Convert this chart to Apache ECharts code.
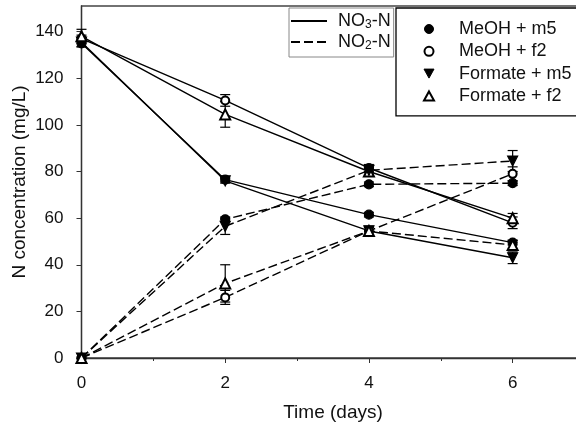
<!DOCTYPE html>
<html>
<head>
<meta charset="utf-8">
<script src="https://cdn.jsdelivr.net/npm/echarts@6/dist/echarts.min.js"></script>
<style>
  html, body { margin: 0; padding: 0; background: #fff; }
  #chart { width: 576px; height: 428px; }
</style>
</head>
<body>
<div id="chart"></div>
<script>
// Sampling days and axis ticks
const days = [0, 2, 4, 6];
const xTicks = [0, 2, 4, 6];
const xMinorTicks = [1, 3, 5];
const yTicks = [0, 20, 40, 60, 80, 100, 120, 140];

// Legend labels
const treatments = ['MeOH + m5', 'MeOH + f2', 'Formate + m5', 'Formate + f2'];
const speciesNames = ['NO3-N', 'NO2-N'];

// Nitrate (mg/L) and standard deviations
const no3MeohM5 = [135, 76.5, 61.5, 49.5];
const no3MeohM5Err = [1.5, 1, 1, 1];
const no3MeohF2 = [137, 110.5, 81.5, 58];
const no3MeohF2Err = [1.5, 2.5, 1.5, 2.5];
const no3FormM5 = [135.5, 76, 54.5, 43];
const no3FormM5Err = [2, 1, 1.5, 2.5];
const no3FormF2 = [138, 104.5, 80, 60];
const no3FormF2Err = [3, 5.5, 1.5, 2];

// Nitrite (mg/L) and standard deviations
const no2MeohM5 = [0, 59.5, 74.5, 75];
const no2MeohM5Err = [0, 1, 1, 1];
const no2MeohF2 = [0, 26, 54.5, 79];
const no2MeohF2Err = [0, 3, 2, 3];
const no2FormM5 = [0, 56.5, 80.5, 84.5];
const no2FormM5Err = [0, 3.5, 1, 4.5];
const no2FormF2 = [0, 32, 54.5, 48.5];
const no2FormF2Err = [0, 8, 2, 2];

const downTriangle = 'path://M0,0 L10,0 L5,9 Z';
const markerOf = {
  'MeOH + m5': { symbol: 'circle', size: 9 },
  'MeOH + f2': { symbol: 'emptyCircle', size: 8 },
  'Formate + m5': { symbol: downTriangle, size: 10 },
  'Formate + f2': { symbol: 'emptyTriangle', size: 10 }
};
const textFont = 'Liberation Sans, Arial, sans-serif';

function lineSeries(name, values, dashed) {
  const m = markerOf[name];
  return {
    type: 'line',
    name: name,
    data: days.map((d, i) => [d, values[i]]),
    symbol: m.symbol,
    symbolSize: m.size,
    showAllSymbol: true,
    z: 3,
    itemStyle: { color: '#000', borderColor: '#000', borderWidth: 1.2 },
    lineStyle: { color: '#000', width: 1.4, type: dashed ? [9, 4] : 'solid' },
    emphasis: { disabled: true },
    animation: false
  };
}

function errorSeries(values, errs) {
  return {
    type: 'custom',
    z: 2,
    silent: true,
    animation: false,
    data: days.map((d, i) => [d, values[i], errs[i]]),
    renderItem: function (params, api) {
      const x = api.value(0), v = api.value(1), e = api.value(2);
      if (!e) return { type: 'group', children: [] };
      const top = api.coord([x, v + e]);
      const bot = api.coord([x, v - e]);
      const hw = 5;
      const st = { stroke: '#000', lineWidth: 1.2 };
      return {
        type: 'group',
        children: [
          { type: 'line', shape: { x1: top[0], y1: top[1], x2: bot[0], y2: bot[1] }, style: st },
          { type: 'line', shape: { x1: top[0] - hw, y1: top[1], x2: top[0] + hw, y2: top[1] }, style: st },
          { type: 'line', shape: { x1: bot[0] - hw, y1: bot[1], x2: bot[0] + hw, y2: bot[1] }, style: st }
        ]
      };
    }
  };
}

const series = [
  errorSeries(no3MeohM5, no3MeohM5Err),
  errorSeries(no3MeohF2, no3MeohF2Err),
  errorSeries(no3FormM5, no3FormM5Err),
  errorSeries(no3FormF2, no3FormF2Err),
  errorSeries(no2MeohM5, no2MeohM5Err),
  errorSeries(no2MeohF2, no2MeohF2Err),
  errorSeries(no2FormM5, no2FormM5Err),
  errorSeries(no2FormF2, no2FormF2Err),
  lineSeries(treatments[0], no3MeohM5, false),
  lineSeries(treatments[1], no3MeohF2, false),
  lineSeries(treatments[2], no3FormM5, false),
  lineSeries(treatments[3], no3FormF2, false),
  lineSeries(treatments[0], no2MeohM5, true),
  lineSeries(treatments[1], no2MeohF2, true),
  lineSeries(treatments[2], no2FormM5, true),
  lineSeries(treatments[3], no2FormF2, true),
  // line-style keys for the species legend
  { type: 'line', name: speciesNames[0], data: [], symbol: 'none', lineStyle: { color: '#000', width: 1.4 }, itemStyle: { color: '#000' } },
  { type: 'line', name: speciesNames[1], data: [], symbol: 'none', lineStyle: { color: '#000', width: 1.4, type: [9, 4] }, itemStyle: { color: '#000' } }
];

const chart = echarts.init(document.getElementById('chart'), null, { renderer: 'canvas' });
chart.setOption({
  backgroundColor: '#fff',
  animation: false,
  textStyle: { fontFamily: textFont },
  grid: {
    left: 81.5, right: -8.5, top: 6, bottom: 70,
    containLabel: false, outerBoundsMode: 'none',
    show: true, borderColor: '#444', borderWidth: 1.3
  },
  xAxis: [{
    type: 'value', min: 0, max: 7, interval: 2,
    name: 'Time (days)', nameLocation: 'middle', nameGap: 45, nameMoveOverlap: false,
    nameTextStyle: { fontSize: 19, color: '#111', fontFamily: textFont },
    axisLine: { show: true, onZero: false, lineStyle: { color: '#333', width: 1.3 } },
    axisTick: { show: true, inside: false, length: 5, customValues: xTicks, lineStyle: { color: '#333' } },
    axisLabel: { show: true, margin: 17, fontSize: 17, color: '#111', customValues: xTicks, fontFamily: textFont },
    splitLine: { show: false },
    minorTick: { show: false }
  }, {
    type: 'value', min: 0, max: 7, position: 'bottom', gridIndex: 0,
    axisLine: { show: false },
    axisTick: { show: true, inside: false, length: 3, customValues: xMinorTicks, lineStyle: { color: '#333' } },
    axisLabel: { show: false },
    splitLine: { show: false }
  }],
  yAxis: {
    type: 'value', min: 0, max: 151, interval: 20,
    name: 'N concentration (mg/L)', nameLocation: 'middle', nameGap: 52, nameMoveOverlap: false,
    nameTextStyle: { fontSize: 19, color: '#111', fontFamily: textFont },
    axisLine: { show: true, onZero: false, lineStyle: { color: '#333', width: 1.3 } },
    axisTick: { show: true, inside: false, length: 5, customValues: yTicks, lineStyle: { color: '#333' } },
    axisLabel: { show: true, margin: 18, fontSize: 17, color: '#111', customValues: yTicks, fontFamily: textFont },
    splitLine: { show: false }
  },
  legend: [{
    orient: 'vertical',
    left: 289, top: 8,
    data: speciesNames.map(n => ({ name: n, itemStyle: { opacity: 0 } })),
    itemWidth: 36, itemHeight: 10, itemGap: 2,
    padding: [4, 3, 5, 1],
    borderColor: '#888', borderWidth: 1, backgroundColor: '#fff',
    selectedMode: false,
    formatter: n => n.replace(/NO(\d)/, 'NO{s|$1}'),
    textStyle: {
      fontSize: 18, color: '#111', fontFamily: textFont, padding: [0, 0, 0, 6],
      rich: { s: { fontSize: 12, color: '#111', fontFamily: textFont, padding: [8, 0, 0, 0] } }
    }
  }, {
    orient: 'vertical',
    left: 396, top: 8,
    data: [
      { name: treatments[0], icon: 'circle' },
      { name: treatments[1], icon: 'emptyCircle' },
      { name: treatments[2], icon: downTriangle },
      { name: treatments[3], icon: 'emptyTriangle' }
    ],
    itemWidth: 10, itemHeight: 9, itemGap: 4.3,
    padding: [12, 50, 11, 27],
    borderColor: '#000', borderWidth: 1.3, backgroundColor: '#fff',
    selectedMode: false,
    itemStyle: { color: '#000', borderColor: '#000', borderWidth: 1 },
    textStyle: { fontSize: 18, color: '#111', fontFamily: textFont, padding: [0, 0, 0, 20] }
  }],
  series: series
});
</script>
</body>
</html>
